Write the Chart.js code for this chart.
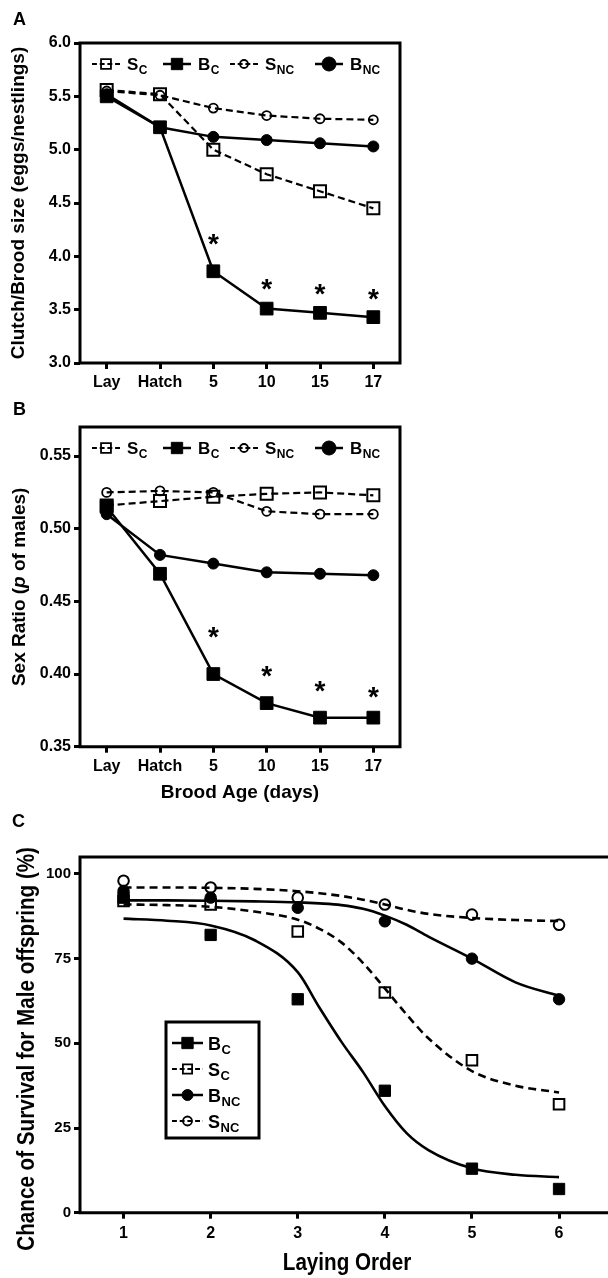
<!DOCTYPE html>
<html>
<head>
<meta charset="utf-8">
<script src="https://cdn.jsdelivr.net/npm/chart.js@4.4.1/dist/chart.umd.min.js"></script>
<style>
  html, body { margin: 0; padding: 0; background: #fff; }
  body { width: 608px; height: 1278px; position: relative; overflow: hidden; }
  canvas { position: absolute; left: 0; }
  #chartA { top: 0; }
  #chartB { top: 400px; }
  #chartC { top: 810px; }
</style>
</head>
<body>
<canvas id="chartA" width="608" height="400"></canvas>
<canvas id="chartB" width="608" height="410"></canvas>
<canvas id="chartC" width="608" height="468"></canvas>
<script>
// ---- data ----
const ageLabels = ["Lay", "Hatch", "5", "10", "15", "17"];

// A: clutch / brood size
const clutchSC  = [5.56, 5.52, 5.00, 4.77, 4.61, 4.45];
const clutchBC  = [5.50, 5.21, 3.86, 3.51, 3.47, 3.43];
const clutchSNC = [5.55, 5.51, 5.39, 5.32, 5.29, 5.28];
const clutchBNC = [5.52, 5.21, 5.12, 5.09, 5.06, 5.03];
const clutchTicks = [3.0, 3.5, 4.0, 4.5, 5.0, 5.5, 6.0];
const clutchStars = [null, null, 4.18, 3.76, 3.71, 3.66];

// B: sex ratio
const ratioSC  = [0.516, 0.519, 0.522, 0.524, 0.525, 0.523];
const ratioBC  = [0.515, 0.469, 0.400, 0.380, 0.370, 0.370];
const ratioSNC = [0.525, 0.526, 0.525, 0.512, 0.510, 0.510];
const ratioBNC = [0.510, 0.482, 0.476, 0.470, 0.469, 0.468];
const ratioTicks = [0.35, 0.40, 0.45, 0.50, 0.55];
const ratioStars = [null, null, 0.430, 0.403, 0.393, 0.389];

// C: survival by laying order
const layOrder = [1, 2, 3, 4, 5, 6];
const survBC  = [93, 82, 63, 36, 13, 7];
const survSC  = [92, 91, 83, 65, 45, 32];
const survBNC = [95, 93, 90, 86, 75, 63];
const survSNC = [98, 96, 93, 91, 88, 85];
const survTicks = [0, 25, 50, 75, 100];

// fitted curves, read at these laying-order positions
const fitX   = [1, 1.5, 2, 2.5, 3, 3.25, 3.5, 3.75, 4, 4.25, 4.5, 5, 5.5, 6];
const fitBC  = [86.8, 86.2, 84.8, 80.5, 71.0, 60.5, 50.5, 41.5, 31.5, 23.5, 18.5, 13.1, 11.2, 10.5];
const fitSC  = [91.0, 90.8, 90.3, 88.9, 86.5, 83.8, 79.8, 73.7, 66.2, 58.5, 51.5, 41.8, 37.5, 35.5];
const fitBNC = [92.2, 92.2, 92.1, 91.9, 91.6, 91.3, 90.8, 89.7, 87.7, 85.0, 81.5, 75.0, 68.0, 64.0];
const fitSNC = [96.0, 96.0, 95.9, 95.6, 94.9, 94.3, 93.5, 92.4, 91.0, 89.4, 88.2, 87.0, 86.4, 86.1];

// ---- look ----
const SANS = "'Liberation Sans', Arial, Helvetica, sans-serif";
const CLEAR = "rgba(0,0,0,0)";

Chart.defaults.font.family = SANS;
Chart.defaults.font.weight = "bold";
Chart.defaults.color = "#000";
Chart.defaults.animation = false;

const looks = {
  SC:  { main: "S", sub: "C",  dash: [7, 4], style: "rect",   r: 8.5, fill: false, lw: 2.2, bw: 2 },
  BC:  { main: "B", sub: "C",  dash: [],     style: "rect",   r: 9,   fill: true,  lw: 2.5, bw: 1 },
  SNC: { main: "S", sub: "NC", dash: [7, 4], style: "circle", r: 4.5, fill: false, lw: 2.2, bw: 1.8 },
  BNC: { main: "B", sub: "NC", dash: [],     style: "circle", r: 5.5, fill: true,  lw: 2.5, bw: 1 }
};

const tickGrid = { drawOnChartArea: false, drawTicks: true, tickLength: 6, tickWidth: 3, tickColor: "#000" };

function lineSet(key, values) {
  const s = looks[key];
  return {
    label: s.main + s.sub,
    data: values,
    borderColor: "#000",
    borderWidth: s.lw,
    borderDash: s.dash,
    pointStyle: s.style,
    pointRadius: s.r,
    pointBorderWidth: s.bw,
    pointBorderColor: "#000",
    pointBackgroundColor: s.fill ? "#000" : CLEAR,
    tension: 0,
    clip: false
  };
}

// legend key: short line with marker, then label with subscript
function drawKey(ctx, s, x0, x1, y, r) {
  ctx.save();
  ctx.strokeStyle = "#000";
  ctx.lineWidth = s.lw;
  ctx.setLineDash(s.dash.map(d => d * 0.7));
  ctx.beginPath(); ctx.moveTo(x0, y); ctx.lineTo(x1, y); ctx.stroke();
  ctx.setLineDash([]);
  ctx.fillStyle = s.fill ? "#000" : CLEAR;
  ctx.lineWidth = s.fill ? 1 : 1.8;
  Chart.helpers.drawPoint(ctx, { pointStyle: s.style, radius: r || s.r, borderWidth: ctx.lineWidth, rotation: 0 }, (x0 + x1) / 2, y);
  ctx.restore();
}

function drawSub(ctx, main, sub, x, y, size, subSize) {
  ctx.save();
  ctx.fillStyle = "#000";
  ctx.textAlign = "left"; ctx.textBaseline = "alphabetic";
  ctx.font = "bold " + size + "px " + SANS;
  ctx.fillText(main, x, y);
  const w = ctx.measureText(main).width;
  ctx.font = "bold " + subSize + "px " + SANS;
  ctx.fillText(sub, x + w + 0.5, y + subSize * 0.36);
  ctx.restore();
}

// rotated axis title; sx < 1 squeezes it like a narrow face
function drawRotated(ctx, segs, x, cy, font, sx) {
  ctx.save();
  ctx.translate(x, cy); ctx.rotate(-Math.PI / 2); ctx.scale(sx || 1, 1);
  ctx.fillStyle = "#000";
  ctx.textAlign = "left"; ctx.textBaseline = "middle";
  const fonts = segs.map(s => (s.italic ? "italic " : "") + font);
  let total = 0;
  segs.forEach((s, i) => { ctx.font = fonts[i]; total += ctx.measureText(s.text).width; });
  let px = -total / 2;
  segs.forEach((s, i) => { ctx.font = fonts[i]; ctx.fillText(s.text, px, 0); px += ctx.measureText(s.text).width; });
  ctx.restore();
}

function decor(cfg) {
  return {
    id: "decor",
    afterDraw(chart) {
      const ctx = chart.ctx, a = chart.chartArea;
      ctx.save();
      ctx.strokeStyle = "#000"; ctx.fillStyle = "#000";
      ctx.lineWidth = 3; ctx.setLineDash([]);
      ctx.beginPath();
      if (cfg.openRight) {
        ctx.moveTo(chart.width + 5, a.top); ctx.lineTo(a.left, a.top);
        ctx.lineTo(a.left, a.bottom); ctx.lineTo(chart.width + 5, a.bottom);
      } else {
        ctx.rect(a.left, a.top, a.right - a.left, a.bottom - a.top);
      }
      ctx.stroke();

      // panel letter
      ctx.font = "bold 18px " + SANS;
      ctx.textAlign = "left"; ctx.textBaseline = "alphabetic";
      ctx.fillText(cfg.letter, cfg.letterX, cfg.letterY);

      // axis titles
      const cy = (a.top + a.bottom) / 2 + (cfg.yTitleShift || 0);
      drawRotated(ctx, cfg.yTitle, cfg.yTitleX, cy, cfg.titleFont, cfg.squeeze);
      if (cfg.xTitle) {
        ctx.save();
        ctx.translate(cfg.xTitleX || (a.left + a.right) / 2, cfg.xTitleY);
        ctx.scale(cfg.squeeze || 1, 1);
        ctx.font = cfg.titleFont;
        ctx.textAlign = "center"; ctx.textBaseline = "middle";
        ctx.fillText(cfg.xTitle, 0, 0);
        ctx.restore();
      }

      // significance stars
      if (cfg.stars) {
        const xs = chart.scales.x, ys = chart.scales.y;
        ctx.font = "bold 28px " + SANS;
        ctx.textAlign = "center"; ctx.textBaseline = "alphabetic";
        cfg.stars.forEach((v, i) => {
          if (v == null) return;
          ctx.fillText("*", xs.getPixelForValue(i), ys.getPixelForValue(v) + 0.56 * 28);
        });
      }

      // legend row across the top (A, B)
      if (cfg.legendRow) {
        const cols = [12, 83, 150, 235];
        const y = a.top + 21;
        cfg.legendRow.forEach((k, i) => {
          const s = looks[k], x0 = a.left + cols[i];
          drawKey(ctx, s, x0, x0 + 28, y, s.style === "circle" && !s.fill ? 4 : (s.fill && s.style === "rect" ? 8 : 7));
          drawSub(ctx, s.main, s.sub, x0 + 35, y + 6, 17, 12);
        });
      }

      // boxed legend (C)
      if (cfg.legendBox) {
        const bx = a.left + 86, by = a.top + 165, bw = 93, bh = 116;
        ctx.lineWidth = 3;
        ctx.fillStyle = "#fff";
        ctx.fillRect(bx, by, bw, bh);
        ctx.strokeRect(bx, by, bw, bh);
        cfg.legendBox.forEach((k, i) => {
          const s = looks[k], y = by + 21 + i * 26;
          drawKey(ctx, s, bx + 6, bx + 37, y, s.style === "circle" && !s.fill ? 4.5 : (s.fill && s.style === "rect" ? 8 : (s.style === "rect" ? 6.5 : 5.5)));
          drawSub(ctx, s.main, s.sub, bx + 42, y + 6.5, 18, 13);
        });
      }
      ctx.restore();
    }
  };
}

function ageChart(id, sets, yMin, yMax, yTicks, digits, xHeight, padTop, deco) {
  return new Chart(document.getElementById(id), {
    type: "line",
    data: {
      labels: ageLabels,
      datasets: [lineSet("SC", sets.SC), lineSet("SNC", sets.SNC), lineSet("BC", sets.BC), lineSet("BNC", sets.BNC)]
    },
    options: {
      responsive: false,
      layout: { padding: { left: 0, top: padTop, right: 208, bottom: 0 } },
      plugins: { legend: { display: false }, tooltip: { enabled: false } },
      scales: {
        x: {
          type: "category",
          offset: true,
          afterFit: s => { s.height = xHeight; },
          ticks: { font: { size: 16, weight: "bold" }, color: "#000", padding: 4, maxRotation: 0, autoSkip: false },
          grid: Object.assign({ offset: false }, tickGrid),
          border: { display: false }
        },
        y: {
          min: yMin, max: yMax,
          afterFit: s => { s.width = 80; },
          afterBuildTicks: s => { s.ticks = yTicks.map(v => ({ value: v })); },
          ticks: { callback: v => Number(v).toFixed(digits), font: { size: 16, weight: "bold" }, color: "#000", padding: 3 },
          grid: tickGrid,
          border: { display: false }
        }
      }
    },
    plugins: [decor(deco)]
  });
}

// Panel A
ageChart("chartA", { SC: clutchSC, BC: clutchBC, SNC: clutchSNC, BNC: clutchBNC },
  3.0, 6.0, clutchTicks, 1, 37, 43, {
    letter: "A", letterX: 13, letterY: 25,
    yTitle: [{ text: "Clutch/Brood size (eggs/nestlings)" }], yTitleX: 19,
    titleFont: "bold 19px " + SANS,
    stars: clutchStars,
    legendRow: ["SC", "BC", "SNC", "BNC"]
  });

// Panel B
ageChart("chartB", { SC: ratioSC, BC: ratioBC, SNC: ratioSNC, BNC: ratioBNC },
  0.35, 0.57, ratioTicks, 2, 63.3, 27, {
    letter: "B", letterX: 13, letterY: 15,
    yTitle: [{ text: "Sex Ratio (" }, { text: "p", italic: true }, { text: " of males)" }], yTitleX: 20,
    titleFont: "bold 19px " + SANS,
    xTitle: "Brood Age (days)", xTitleY: 393,
    stars: ratioStars,
    legendRow: ["SC", "BC", "SNC", "BNC"]
  });

// Panel C
function fitSet(key, values) {
  const s = looks[key];
  return {
    label: s.main + s.sub + " fit",
    data: fitX.map((x, i) => ({ x: x, y: values[i] })),
    borderColor: "#000", borderWidth: 2.6, borderDash: s.dash.length ? [8, 5] : [],
    pointRadius: 0, cubicInterpolationMode: "monotone", fill: false
  };
}
function dotSet(key, values, r, bw) {
  const s = looks[key];
  return {
    label: s.main + s.sub,
    data: layOrder.map((x, i) => ({ x: x, y: values[i] })),
    showLine: false,
    pointStyle: s.style, pointRadius: r, pointBorderWidth: bw,
    pointBorderColor: "#000", pointBackgroundColor: s.fill ? "#000" : CLEAR,
    clip: false
  };
}

new Chart(document.getElementById("chartC"), {
  type: "line",
  data: {
    datasets: [
      dotSet("SNC", survSNC, 5.3, 2), dotSet("BNC", survBNC, 5.7, 1),
      dotSet("SC", survSC, 7.5, 2), dotSet("BC", survBC, 8, 1),
      fitSet("SNC", fitSNC), fitSet("BNC", fitBNC), fitSet("SC", fitSC), fitSet("BC", fitBC)
    ]
  },
  options: {
    responsive: false,
    layout: { padding: { left: 0, top: 47, right: 0, bottom: 0 } },
    plugins: { legend: { display: false }, tooltip: { enabled: false } },
    scales: {
      x: {
        type: "linear", min: 0.5, max: 6.453,
        afterFit: s => { s.height = 65.3; },
        afterBuildTicks: s => { s.ticks = layOrder.map(v => ({ value: v })); },
        ticks: { font: { size: 16, weight: "bold" }, color: "#000", padding: 5 },
        grid: tickGrid,
        border: { display: false }
      },
      y: {
        min: 0, max: 105,
        afterFit: s => { s.width = 80; },
        afterBuildTicks: s => { s.ticks = survTicks.map(v => ({ value: v })); },
        ticks: { font: { size: 15, weight: "bold" }, color: "#000", padding: 3 },
        grid: tickGrid,
        border: { display: false }
      }
    }
  },
  plugins: [decor({
    letter: "C", letterX: 12, letterY: 17,
    openRight: true,
    yTitle: [{ text: "Chance of Survival for Male offspring (%)" }], yTitleX: 27, yTitleShift: 14,
    titleFont: "bold 24px " + SANS, squeeze: 0.86,
    xTitle: "Laying Order", xTitleX: 347, xTitleY: 453,
    legendBox: ["BC", "SC", "BNC", "SNC"]
  })]
});
</script>
</body>
</html>
